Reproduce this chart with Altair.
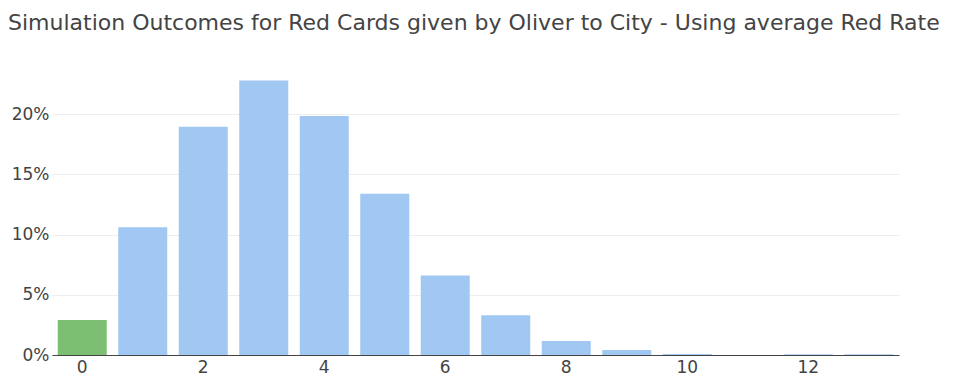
import altair as alt
import pandas as pd

outcomes = list(range(14))
shares = [2.9, 10.6, 18.95, 22.8, 19.85, 13.4, 6.6, 3.3, 1.17, 0.42, 0.08, 0.0, 0.07, 0.07]
highlight = ["actual"] + ["sim"] * 13

df = pd.DataFrame({"outcome": outcomes, "share": [s / 100 for s in shares], "kind": highlight})

chart = alt.Chart(df).mark_bar().encode(
    x=alt.X("outcome:O",
            scale=alt.Scale(paddingInner=0.19, paddingOuter=0.095),
            axis=alt.Axis(title=None, labelAngle=0, ticks=False, domain=True,
                          domainColor="#444", labelColor="#444", labelFontSize=17,
                          labelFont="DejaVu Sans", labelPadding=4,
                          labelExpr="datum.value % 2 == 0 ? datum.label : ''")),
    y=alt.Y("share:Q",
            scale=alt.Scale(domain=[0, 0.24], nice=False),
            axis=alt.Axis(title=None, format=".0%", values=[0, 0.05, 0.1, 0.15, 0.2],
                          domain=False, ticks=False, gridColor="#eeeeee",
                          labelColor="#444", labelFontSize=17, labelFont="DejaVu Sans",
                          labelPadding=3)),
    color=alt.Color("kind:N", scale=alt.Scale(domain=["actual", "sim"],
                                               range=["#7cbf73", "#a0c8f2"]), legend=None),
).properties(
    width=847, height=289,
    padding={"left": 44, "top": 58, "right": 46, "bottom": 25},
    autosize=alt.AutoSizeParams(type="none"),
    title=alt.TitleParams("Simulation Outcomes for Red Cards given by Oliver to City - Using average Red Rate",
                          anchor="start", frame="group", dx=-44, offset=31,
                          font="DejaVu Sans", fontSize=22, fontWeight="normal", color="#444"),
).configure_view(stroke=None)

chart.save("out.html", embed_options={"renderer": "svg", "actions": False})
